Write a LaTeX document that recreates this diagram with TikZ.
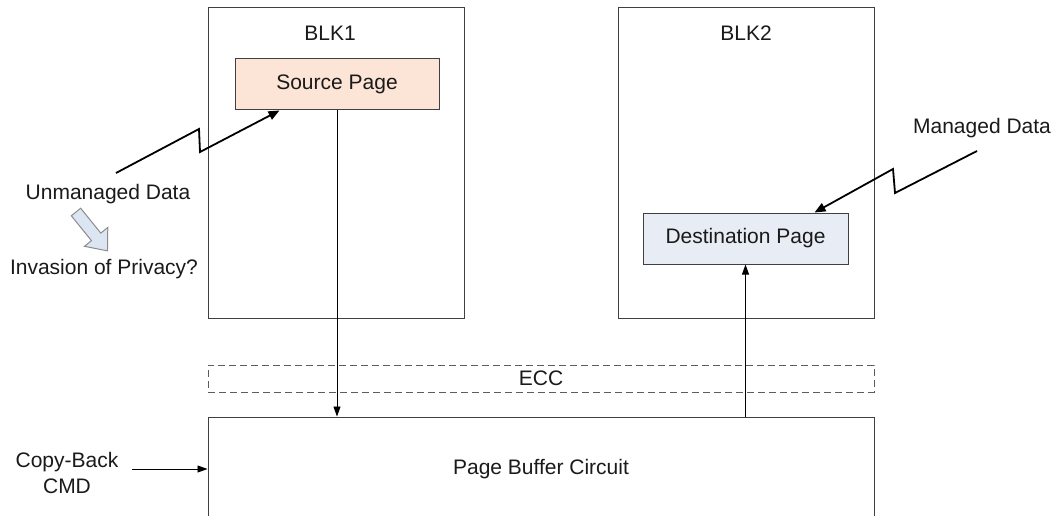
\documentclass[tikz,border=0pt]{standalone}
\usepackage{fontspec}
\setmainfont{Liberation Sans}
\usetikzlibrary{arrows.meta}
\definecolor{peach}{HTML}{FCE4D6}
\definecolor{paleblue}{HTML}{E8EDF5}
\definecolor{arrowblue}{HTML}{DCE6F2}
\definecolor{edge}{HTML}{404040}
\definecolor{txt}{HTML}{1A1A1A}
\begin{document}
\begin{tikzpicture}[x=1pt,y=-1pt, font=\fontsize{21}{26}\selectfont,
  box/.style={draw=edge, line width=1pt, inner sep=0pt, text=txt},
  lbl/.style={inner sep=0pt, text=txt},
  thinarrow/.style={draw=black, line width=0.9pt, -{Triangle[length=10pt,width=7pt]}},
  zig/.style={draw=black, line width=1.8pt, -{Triangle[length=11pt,width=9pt]}},
  blockarrow/.style={draw=gray!90, fill=arrowblue, line width=1pt, line join=miter},
]
\useasboundingbox (0,0) rectangle (1059,516);
\fill[white] (0,0) rectangle (1059,516);
% blocks
\node[box, minimum width=256pt, minimum height=310pt] (blk1) at (336,163) {};
\node[lbl] (blk1l) at (330,33) {BLK1};
\node[box, minimum width=256pt, minimum height=310pt] (blk2) at (746,163) {};
\node[lbl] (blk2l) at (746,33) {BLK2};
% pages
\node[box, fill=peach, minimum width=204pt, minimum height=51pt] (src) at (337,84.5) {Source Page};
\node[box, fill=paleblue, minimum width=205pt, minimum height=51pt] (dst) at (745.5,238.5) {Destination Page};
% ECC and page buffer
\node[box, draw=edge!85, dash pattern=on 7pt off 4pt, minimum width=666pt, minimum height=27pt] (ecc) at (541,378.5) {ECC};
\node[box, minimum width=666pt, minimum height=104pt] (pb) at (541,469) {Page Buffer Circuit};
% labels
\node[lbl] (unm) at (108,194) {Unmanaged Data};
\node[lbl] (inv) at (104,269) {Invasion of Privacy?};
\node[lbl] (man) at (982,128) {Managed Data};
\node[lbl, align=center] (cb) at (67,473) {Copy-Back\\CMD};
% block arrow
\begin{scope}[shift={(76,212)}, rotate=-51]
  \draw[blockarrow] (0,-6) -- (32,-6) -- (32,-15) -- (50,0) -- (32,15) -- (32,6) -- (0,6) -- cycle;
\end{scope}
% lightning connectors
\coordinate (u0) at (116,173);
\coordinate (u1) at (199,129);
\coordinate (u2) at (200,152);
\draw[zig] (u0) -- (u1) -- (u2) -- ([xshift=45pt]src.south west);
\coordinate (m0) at (977,151);
\coordinate (m1) at (895,193);
\coordinate (m2) at (893,169);
\draw[zig] (m0) -- (m1) -- (m2) -- ([xshift=172pt]dst.north west);
% straight connectors
\draw[thinarrow] (src.south) -- (src.south |- pb.north);
\draw[thinarrow] (dst.south |- pb.north) -- (dst.south);
\coordinate (cbs) at (132,469);
\draw[thinarrow] (cbs) -- (pb.west);
\end{tikzpicture}
\end{document}
